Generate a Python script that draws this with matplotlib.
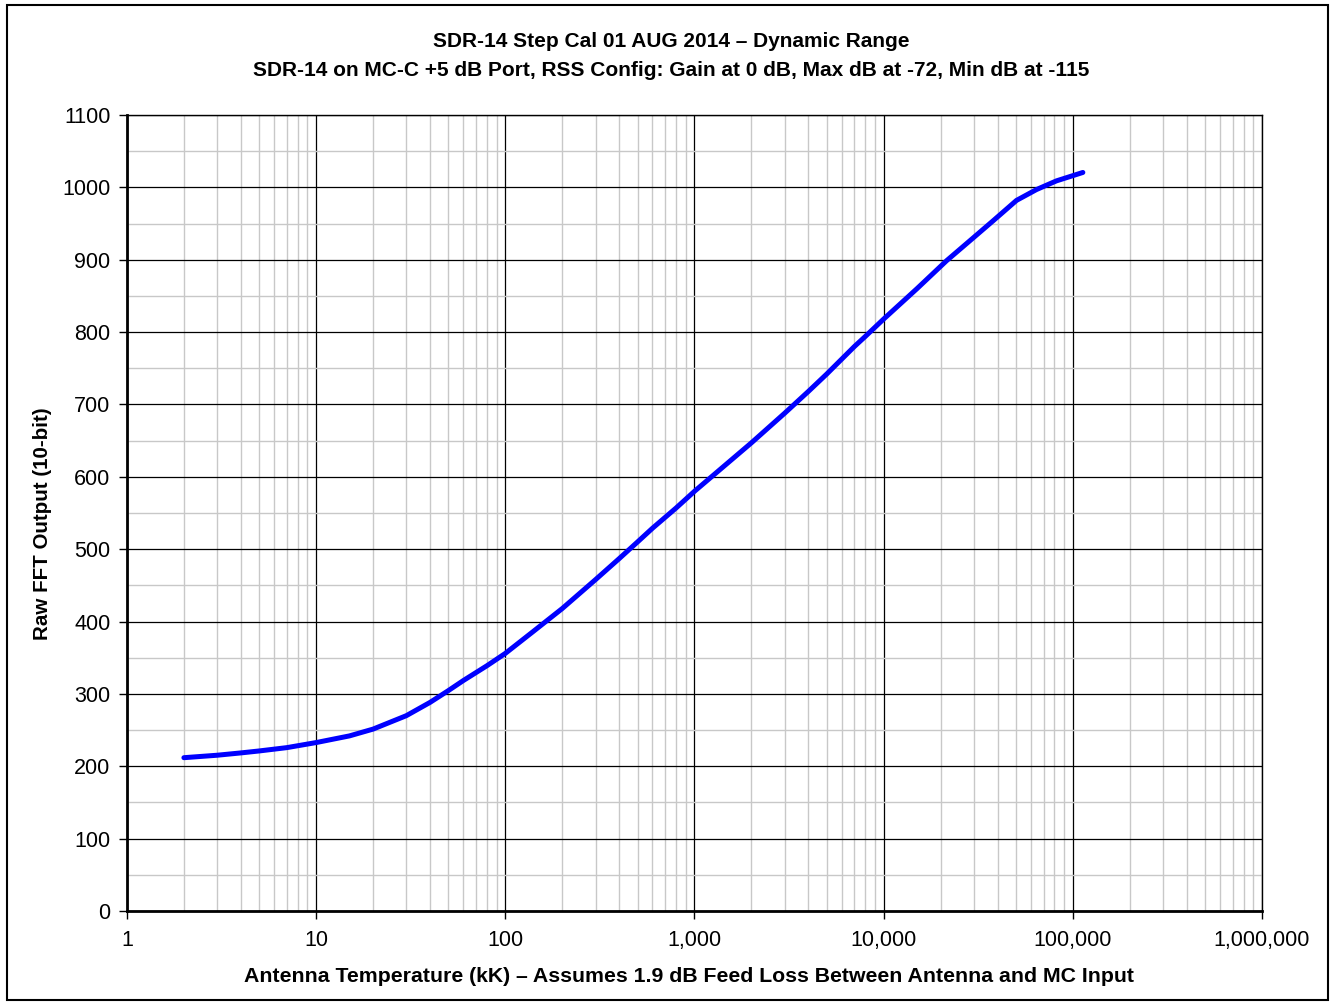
import numpy as np
import matplotlib
matplotlib.use('Agg')
import matplotlib.pyplot as plt
from matplotlib.ticker import FuncFormatter, FixedLocator, MultipleLocator
from matplotlib.patches import Rectangle

plt.rcParams['font.family'] = ['Liberation Sans', 'DejaVu Sans']

# antenna temperature (kK) vs raw FFT output
temp_kk = [2, 3, 4, 5, 7, 10, 15, 20, 30, 40, 50, 60, 70, 80, 100, 140, 200,
           300, 400, 500, 600, 800, 1000, 2000, 3000, 4000, 5000, 7000, 8000,
           10000, 15000, 21500, 30000, 37900, 50400, 64300, 82000, 113000]
fft_out = [211.9, 215.3, 218.5, 221.2, 225.8, 232.8, 242, 251.4, 270, 288.3,
           304.6, 318.5, 329.5, 339, 356, 386, 418, 458, 487, 510, 529,
           557, 580, 647, 688, 718, 742, 780, 794, 818, 860, 898.6, 931,
           953.8, 982, 997, 1009, 1020.6]

decades = [1, 10, 100, 1000, 10000, 100000, 1000000]

title1 = 'SDR-14 Step Cal 01 AUG 2014 \u2013 Dynamic Range'
title2 = 'SDR-14 on MC-C +5 dB Port, RSS Config: Gain at 0 dB, Max dB at -72, Min dB at -115'
xlabel = 'Antenna Temperature (kK) \u2013 Assumes 1.9 dB Feed Loss Between Antenna and MC Input'
ylabel = 'Raw FFT Output (10-bit)'

fig = plt.figure(figsize=(13.35, 10.07), dpi=100)
ax = fig.add_axes([0.0951, 0.0953, 0.8502, 0.7905])

ax.plot(temp_kk, fft_out, color='#0000FF', lw=3.6, solid_capstyle='round',
        solid_joinstyle='round', zorder=5)

ax.set_xscale('log')
ax.set_xlim(decades[0], decades[-1])
ax.set_ylim(0, 1100)

# 2..9 between every decade for the light grid
minor = [d * k for d in decades[:-1] for k in range(2, 10)]
ax.xaxis.set_major_locator(FixedLocator(decades))
ax.xaxis.set_minor_locator(FixedLocator(minor))
ax.xaxis.set_major_formatter(FuncFormatter(lambda v, p: '{:,.0f}'.format(v)))
ax.yaxis.set_major_locator(MultipleLocator(100))
ax.yaxis.set_minor_locator(MultipleLocator(50))

ax.grid(which='minor', color='#c8c8c8', lw=1.0)
ax.grid(which='major', color='#000000', lw=0.9)
ax.set_axisbelow(True)

ax.tick_params(which='major', direction='out', length=6, width=1, labelsize=15.5, pad=8)
ax.tick_params(axis='y', pad=6)
ax.tick_params(which='minor', length=0)
for s in ax.spines.values():
    s.set_linewidth(1)
ax.spines['left'].set_linewidth(2)
ax.spines['bottom'].set_linewidth(2)

ax.set_xlabel(xlabel, fontsize=15.3, fontweight='bold')
ax.set_ylabel(ylabel, fontsize=14.8, fontweight='bold')
ax.xaxis.set_label_coords(0.495, -0.0817)
ax.yaxis.set_label_coords(-0.074, 0.487)
ax.xaxis.label.set_va('center')
ax.yaxis.label.set_va('center')
fig.text(0.503, 0.9583, title1, ha='center', va='center', fontsize=15, fontweight='bold')
fig.text(0.503, 0.9295, title2, ha='center', va='center', fontsize=15, fontweight='bold')

# outer frame
fig.patches.append(Rectangle((0.005, 0.007), 0.99, 0.988, transform=fig.transFigure,
                             fill=False, edgecolor='black', lw=1.5))

fig.savefig('out.png', dpi=100)
